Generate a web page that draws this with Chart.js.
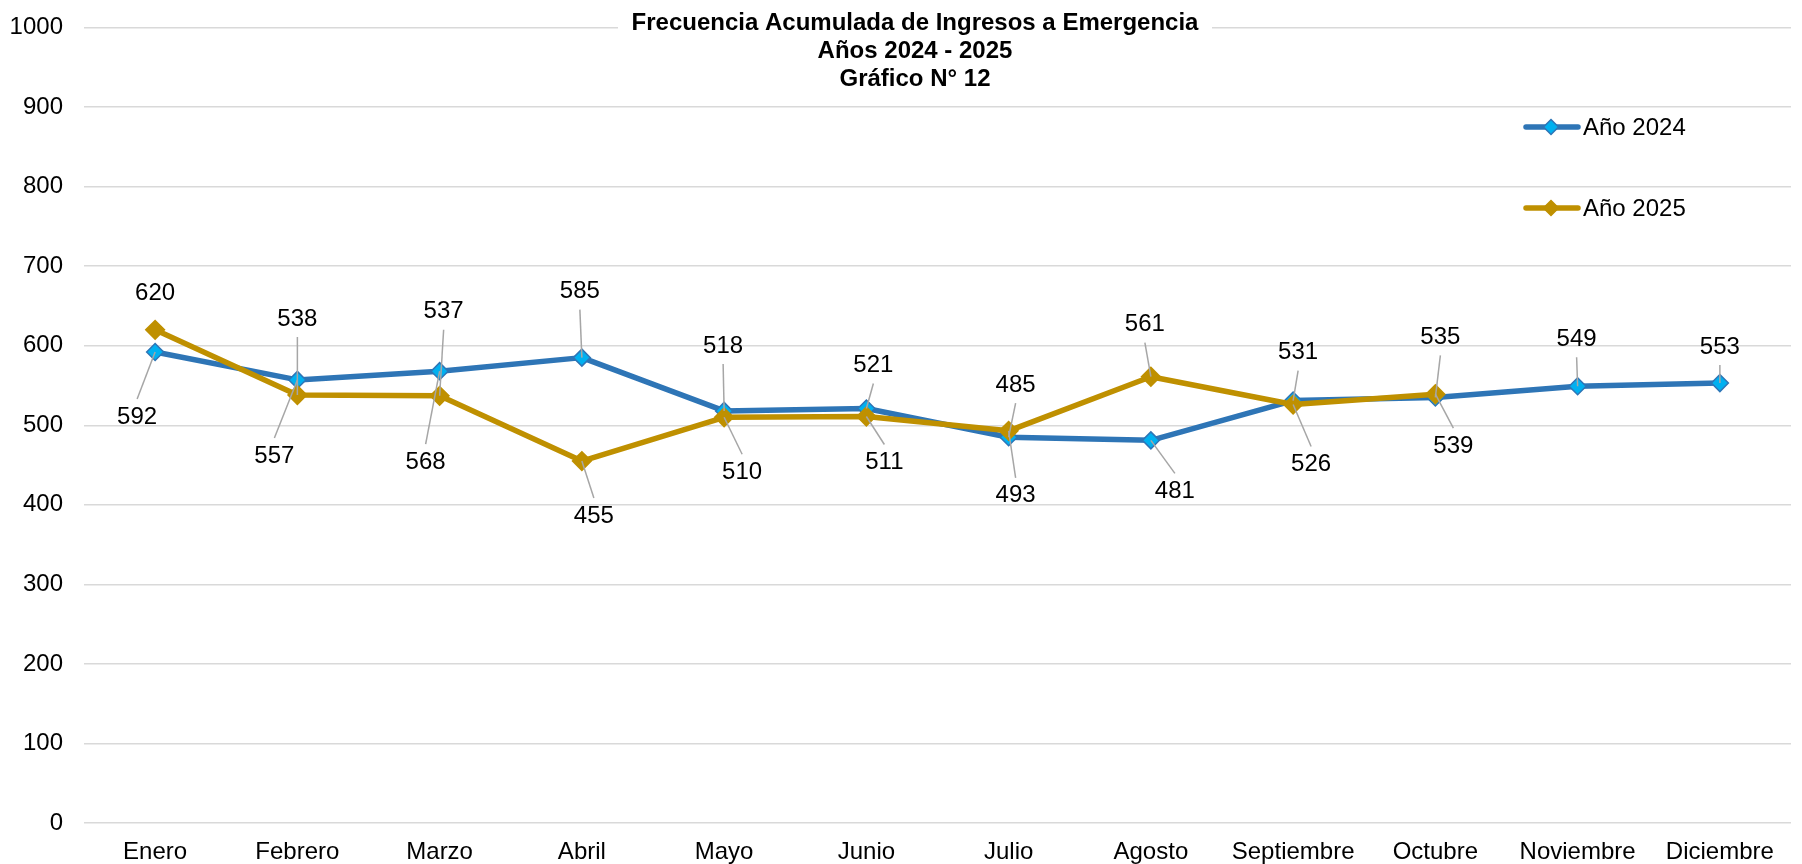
<!DOCTYPE html>
<html>
<head>
<meta charset="utf-8">
<script src="https://cdn.jsdelivr.net/npm/chart.js@4.4.1/dist/chart.umd.min.js"></script>
<style>
html,body{margin:0;padding:0;background:#fff;}
#wrap{width:1802px;height:864px;position:relative;}
</style>
</head>
<body>
<div id="wrap"><canvas id="c"></canvas></div>
<script>
// ---- data ----
const titleLines = ['Frecuencia Acumulada de Ingresos a Emergencia', 'Años 2024 - 2025', 'Gráfico N° 12'];
const months = ['Enero','Febrero','Marzo','Abril','Mayo','Junio','Julio','Agosto','Septiembre','Octubre','Noviembre','Diciembre'];
const seriesNames = ['Año 2024', 'Año 2025'];
const values2024 = [592, 557, 568, 585, 518, 521, 485, 481, 531, 535, 549, 553];
const values2025 = [620, 538, 537, 455, 510, 511, 493, 561, 526, 539];
const yMin = 0, yMax = 1000, yStep = 100;

// ---- styling ----
const FONT = '"Liberation Sans", Arial, sans-serif';
const FS = 24;
const blueLine = '#2E75B6', blueFill = '#00B0F0';
const gold = '#BF9000';
// label offsets (dx, dy from point, optional leader flag) — placement only
const labelPlacement = [
  [[-18,65],[-23,76],[-14,91],[-2,-66],[-1,-65],[7,-43],[7,-52],[24,51],[5,-48],[5,-60],[-1,-47],[0,-36]],
  [[0,-36,false],[0,-76],[4,-84],[12,55],[18,55],[18,46],[7,65],[-6,-52],[18,60],[18,52]]
];

const labelsPlugin = {
  id: 'dataLabels',
  afterDatasetsDraw(chart) {
    const ctx = chart.ctx;
    ctx.save();
    chart.data.datasets.forEach((ds, di) => {
      const meta = chart.getDatasetMeta(di);
      meta.data.forEach((pt, i) => {
        const v = ds.data[i];
        if (v == null) return;
        const off = labelPlacement[di][i];
        const lx = pt.x + off[0], ly = pt.y + off[1];
        if (off[2] !== false) {
          const sy = ly + (off[1] < 0 ? 18 : -18);
          ctx.beginPath();
          ctx.strokeStyle = '#A6A6A6';
          ctx.lineWidth = 1.5;
          ctx.moveTo(lx, sy);
          ctx.lineTo(pt.x, pt.y);
          ctx.stroke();
        }
        ctx.fillStyle = '#000';
        ctx.font = FS + 'px ' + FONT;
        ctx.textAlign = 'center';
        ctx.textBaseline = 'middle';
        ctx.fillText(String(v), lx, ly);
      });
    });
    ctx.restore();
  }
};

function diamond(ctx, x, y, r, fill, stroke, lw) {
  ctx.beginPath();
  ctx.moveTo(x, y - r); ctx.lineTo(x + r, y); ctx.lineTo(x, y + r); ctx.lineTo(x - r, y); ctx.closePath();
  ctx.fillStyle = fill; ctx.fill();
  ctx.strokeStyle = stroke; ctx.lineWidth = lw; ctx.stroke();
}

const decorPlugin = {
  id: 'decor',
  afterDraw(chart) {
    const ctx = chart.ctx;
    ctx.save();
    // title box
    ctx.fillStyle = '#fff';
    ctx.fillRect(618, 4, 594, 92);
    ctx.fillStyle = '#000';
    ctx.font = 'bold 24px ' + FONT;
    ctx.textAlign = 'center';
    ctx.textBaseline = 'alphabetic';
    titleLines.forEach((t, k) => ctx.fillText(t, 915, 30 + k * 28));
    // legend
    const items = [
      {name: seriesNames[0], line: blueLine, fill: blueFill, stroke: blueLine, y: 127},
      {name: seriesNames[1], line: gold, fill: gold, stroke: gold, y: 208}
    ];
    items.forEach(it => {
      ctx.beginPath();
      ctx.strokeStyle = it.line; ctx.lineWidth = 5.5; ctx.lineCap = 'round';
      ctx.moveTo(1526, it.y); ctx.lineTo(1578, it.y); ctx.stroke();
      diamond(ctx, 1551, it.y, 7.5, it.fill, it.stroke, 1.5);
      ctx.fillStyle = '#000';
      ctx.font = FS + 'px ' + FONT;
      ctx.textAlign = 'left';
      ctx.textBaseline = 'middle';
      ctx.fillText(it.name, 1583, it.y + 1);
    });
    ctx.restore();
  }
};

new Chart(document.getElementById('c'), {
  type: 'line',
  data: {
    labels: months,
    datasets: [
      {
        label: seriesNames[0], data: values2024, order: 1,
        borderColor: blueLine, borderWidth: 5.5, borderJoinStyle: 'round', borderCapStyle: 'round',
        pointStyle: 'rectRot', pointRadius: 8.5, pointBackgroundColor: blueFill,
        pointBorderColor: blueLine, pointBorderWidth: 1.5, tension: 0, fill: false
      },
      {
        label: seriesNames[1], data: values2025, order: 0,
        borderColor: gold, borderWidth: 5.5, borderJoinStyle: 'round', borderCapStyle: 'round',
        pointStyle: 'rectRot', pointRadius: 9, pointBackgroundColor: gold,
        pointBorderColor: gold, pointBorderWidth: 2, tension: 0, fill: false
      }
    ]
  },
  options: {
    responsive: true, maintainAspectRatio: false, animation: false,
    layout: {padding: {top: 27.5, left: 0, right: 0, bottom: 0}},
    plugins: {legend: {display: false}, title: {display: false}, tooltip: {enabled: false}},
    scales: {
      x: {
        offset: true,
        grid: {display: false, drawTicks: false},
        border: {display: false},
        ticks: {color: '#000', font: {family: FONT, size: FS}, padding: 15, maxRotation: 0, autoSkip: false},
        afterFit(s) { s.height = 41; }
      },
      y: {
        min: yMin, max: yMax,
        grid: {color: '#D9D9D9', lineWidth: 1.5, drawTicks: false},
        border: {display: false},
        ticks: {stepSize: yStep, color: '#000', font: {family: FONT, size: FS, lineHeight: 0.5}, padding: 21,
                callback: v => String(v)},
        afterFit(s) { s.width = 84; }
      }
    }
  },
  plugins: [labelsPlugin, decorPlugin]
});
</script>
</body>
</html>
